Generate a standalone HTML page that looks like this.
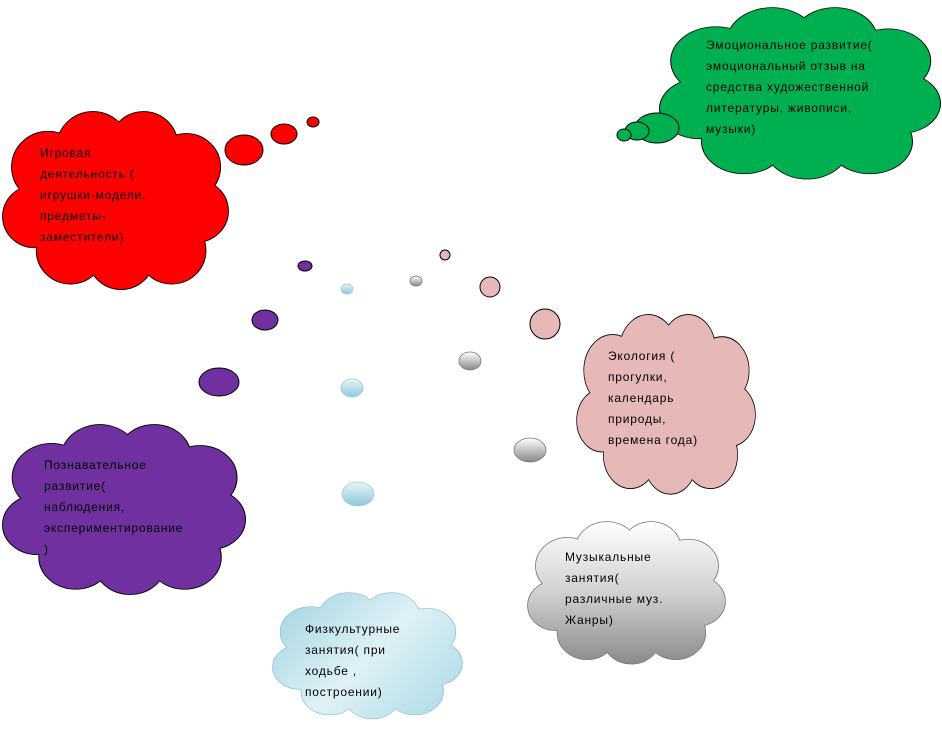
<!DOCTYPE html>
<html><head><meta charset="utf-8"><style>
body{margin:0;background:#fff;width:942px;height:739px;overflow:hidden;position:relative;font-family:"Liberation Sans",sans-serif;}
svg{position:absolute;left:0;top:0}
.t{position:absolute;font-size:12px;line-height:21px;color:#000;white-space:nowrap;letter-spacing:0.8px}
</style></head><body>
<svg width="942" height="739" viewBox="0 0 942 739">
<defs>
<g id="c">
<circle cx="40" cy="50" r="32"/><circle cx="80" cy="32" r="32"/><circle cx="125" cy="30" r="30"/><circle cx="163" cy="50" r="30"/><circle cx="172" cy="90" r="28"/><circle cx="150" cy="126" r="30"/><circle cx="105" cy="132" r="29"/><circle cx="60" cy="126" r="30"/><circle cx="28" cy="95" r="28"/><ellipse cx="100" cy="82" rx="78" ry="58"/>
</g>
<linearGradient id="gg" gradientUnits="userSpaceOnUse" x1="0" y1="0" x2="0" y2="162"><stop offset="0" stop-color="#ffffff"/><stop offset="0.5" stop-color="#d0d0d0"/><stop offset="1" stop-color="#8a8a8a"/></linearGradient>
<linearGradient id="bg" gradientUnits="userSpaceOnUse" x1="0" y1="0" x2="200" y2="162"><stop offset="0" stop-color="#9fd3e0"/><stop offset="0.5" stop-color="#dff1f6"/><stop offset="1" stop-color="#a8d8e4"/></linearGradient>
<linearGradient id="sg" x1="0" y1="0" x2="0" y2="1"><stop offset="0" stop-color="#fff"/><stop offset="1" stop-color="#888"/></linearGradient>
<linearGradient id="sb" x1="0" y1="0" x2="0" y2="1"><stop offset="0" stop-color="#e8f6fa"/><stop offset="1" stop-color="#8cc8d8"/></linearGradient>
</defs>
<g stroke="#000" stroke-width="1">
<g transform="translate(3,112) scale(1.125,1.1)"><use href="#c" fill="#ff0000" style="stroke-width:1.6"/><use href="#c" fill="#ff0000" stroke="none"/></g>
<g transform="translate(660,8) scale(1.4,1.06)"><use href="#c" fill="#00b050" style="stroke-width:1.4"/><use href="#c" fill="#00b050" stroke="none"/></g>
<g transform="translate(577,315) scale(0.89,1.11)"><use href="#c" fill="#e6b8b7" style="stroke-width:1.6"/><use href="#c" fill="#e6b8b7" stroke="none"/></g>
<g transform="translate(3,425) scale(1.21,1.05)"><use href="#c" fill="#7030a0" style="stroke-width:1.6"/><use href="#c" fill="#7030a0" stroke="none"/></g>
<g transform="translate(528,522) scale(0.985,0.88)"><use href="#c" fill="url(#gg)" stroke="#777" style="stroke-width:1.6"/><use href="#c" fill="url(#gg)" stroke="none"/></g>
<g transform="translate(273,593) scale(0.945,0.78)"><use href="#c" fill="url(#bg)" stroke="#8cc0cf" style="stroke-width:1.6"/><use href="#c" fill="url(#bg)" stroke="none"/></g>
<ellipse cx="244" cy="150" rx="19" ry="15" fill="#f00"/><ellipse cx="284" cy="134" rx="13" ry="10" fill="#f00"/><ellipse cx="313" cy="122" rx="6" ry="5" fill="#f00"/>
<ellipse cx="657" cy="128" rx="22" ry="15" fill="#00b050"/><ellipse cx="637" cy="131" rx="12" ry="9" fill="#00b050"/><ellipse cx="624" cy="135" rx="7" ry="6" fill="#00b050"/>
<ellipse cx="445" cy="255" rx="5" ry="5" fill="#e6b8b7"/><ellipse cx="490" cy="287" rx="10" ry="10" fill="#e6b8b7"/><ellipse cx="545" cy="324" rx="15" ry="15" fill="#e6b8b7"/>
<ellipse cx="305" cy="266" rx="7" ry="5" fill="#7030a0"/><ellipse cx="265" cy="320" rx="13" ry="10" fill="#7030a0"/><ellipse cx="219" cy="382" rx="20" ry="14" fill="#7030a0"/>
</g>
<g stroke="#777" stroke-width="0.8">
<ellipse cx="416" cy="281" rx="6" ry="5" fill="url(#sg)"/><ellipse cx="470" cy="361" rx="11" ry="9" fill="url(#sg)"/><ellipse cx="530" cy="450" rx="16" ry="12" fill="url(#sg)"/>
</g>
<g stroke="#9ccbd8" stroke-width="0.8">
<ellipse cx="347" cy="289" rx="6" ry="5" fill="url(#sb)"/><ellipse cx="352" cy="388" rx="11" ry="9" fill="url(#sb)"/><ellipse cx="358" cy="494" rx="16" ry="12" fill="url(#sb)"/>
</g>
</svg>
<div class="t" style="left:40px;top:143px">Игровая<br>деятельность (<br>игрушки-модели,<br>предметы-<br>заместители)</div>
<div class="t" style="left:706px;top:35px">Эмоциональное развитие(<br>эмоциональный отзыв на<br>средства художественной<br>литературы, живописи,<br>музыки)</div>
<div class="t" style="left:608px;top:346px">Экология (<br>прогулки,<br>календарь<br>природы,<br>времена года)</div>
<div class="t" style="left:44px;top:455px">Познавательное<br>развитие(<br>наблюдения,<br>экспериментирование<br>)</div>
<div class="t" style="left:565px;top:547px">Музыкальные<br>занятия(<br>различные муз.<br>Жанры)</div>
<div class="t" style="left:305px;top:619px">Физкультурные<br>занятия( при<br>ходьбе ,<br>построении)</div>
</body></html>
